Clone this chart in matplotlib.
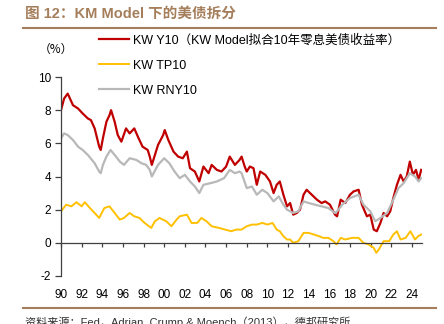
import matplotlib
matplotlib.use("Agg")
import matplotlib.pyplot as plt
from matplotlib.lines import Line2D

plt.rcParams['font.family'] = ['Liberation Sans', 'Noto Sans CJK SC', 'DejaVu Sans']

# KW Y10: fitted 10y zero-coupon yield
y10_years = [1990.0, 1990.3, 1990.65, 1991.16, 1991.65, 1992.1, 1992.6, 1992.9, 1993.26, 1993.7,
             1993.85, 1994.06, 1994.4, 1994.7, 1994.85, 1995.2, 1995.5, 1995.85, 1996.3, 1996.65,
             1997.1, 1997.45, 1997.9, 1998.4, 1998.6, 1998.8, 1998.95, 1999.4, 1999.9, 2000.05,
             2000.4, 2000.9, 2001.35, 2001.8, 2002.2, 2002.5, 2002.97, 2003.4, 2003.8, 2004.3,
             2004.6, 2005.1, 2005.55, 2006.0, 2006.35, 2006.85, 2007.3, 2007.5, 2007.8, 2008.0,
             2008.3, 2008.65, 2008.97, 2009.3, 2009.8, 2010.25, 2010.6, 2010.9, 2011.2, 2011.55,
             2011.9, 2012.2, 2012.5, 2012.85, 2013.16, 2013.5, 2013.8, 2014.3, 2014.8, 2015.25,
             2015.6, 2016.06, 2016.55, 2016.75, 2017.1, 2017.55, 2018.0, 2018.35, 2018.84, 2019.16,
             2019.64, 2019.97, 2020.3, 2020.6, 2020.95, 2021.26, 2021.6, 2021.9, 2022.2, 2022.55,
             2022.9, 2023.2, 2023.5, 2023.8, 2024.1, 2024.4, 2024.65, 2024.9]
y10_vals = [8.0, 8.7, 9.0, 8.3, 8.1, 7.8, 7.5, 7.4, 6.9, 5.8,
            5.6, 6.3, 7.3, 7.7, 8.0, 7.3, 6.5, 6.1, 6.9, 6.6,
            6.9, 6.4, 5.8, 5.6, 5.2, 4.7, 5.0, 5.9, 6.5, 6.8,
            6.2, 5.5, 5.2, 5.1, 5.5, 4.5, 4.3, 3.7, 4.6, 4.2,
            4.7, 4.4, 4.3, 4.6, 5.2, 4.7, 5.0, 5.2, 4.6, 4.3,
            4.6, 4.5, 3.5, 4.3, 4.1, 3.7, 3.0, 3.5, 3.7, 2.9,
            2.2, 2.4, 1.7, 1.8, 2.0, 2.9, 3.2, 2.9, 2.6, 2.4,
            2.5, 2.3, 1.7, 1.6, 2.6, 2.4, 2.9, 3.1, 3.2, 2.3,
            1.6, 1.7, 0.8, 0.7, 1.2, 1.8, 1.6, 1.9, 2.7, 3.5,
            4.1, 3.7, 4.0, 4.9, 4.1, 4.4, 3.8, 4.4]

# KW TP10: term premium
tp_years = [1990.0, 1990.5, 1991.0, 1991.5, 1992.0, 1992.3, 1992.8, 1993.26, 1993.7, 1994.2,
            1994.7, 1995.2, 1995.7, 1996.1, 1996.65, 1997.1, 1997.6, 1998.1, 1998.74, 1999.1,
            1999.55, 2000.2, 2000.7, 2001.2, 2001.5, 2002.2, 2002.65, 2003.2, 2003.6, 2004.1,
            2004.6, 2005.3, 2005.9, 2006.5, 2007.0, 2007.5, 2008.0, 2008.5, 2008.97, 2009.5,
            2010.0, 2010.5, 2010.9, 2011.2, 2011.55, 2011.9, 2012.2, 2012.5, 2013.0, 2013.5,
            2014.0, 2014.5, 2015.0, 2015.4, 2015.9, 2016.4, 2016.7, 2017.1, 2017.55, 2018.2,
            2018.84, 2019.3, 2019.8, 2020.3, 2020.55, 2020.8, 2021.26, 2021.8, 2022.2, 2022.55,
            2022.9, 2023.4, 2023.85, 2024.3, 2024.6, 2024.9]
tp_vals = [1.9, 2.3, 2.2, 2.45, 2.2, 2.45, 2.1, 1.8, 1.5, 2.1,
           2.2, 1.8, 1.4, 1.5, 1.8, 1.6, 1.5, 1.2, 0.9, 1.3,
           1.5, 1.3, 1.0, 1.4, 1.6, 1.7, 1.2, 1.2, 1.5, 1.3,
           1.0, 0.9, 0.8, 0.7, 0.8, 0.8, 1.0, 1.1, 1.1, 1.2,
           1.1, 1.2, 0.8, 0.7, 0.4, 0.2, 0.2, 0.0, 0.1, 0.6,
           0.6, 0.5, 0.4, 0.3, 0.3, 0.1, -0.1, 0.3, 0.2, 0.3,
           0.3, 0.0, -0.1, -0.3, -0.6, -0.4, 0.1, 0.1, 0.5, 0.7,
           0.2, 0.3, 0.7, 0.2, 0.4, 0.5]

# KW RNY10: risk-neutral yield
rny_years = [1990.0, 1990.3, 1990.65, 1991.16, 1991.65, 1992.1, 1992.6, 1993.26, 1993.7, 1993.85,
             1994.06, 1994.4, 1994.8, 1995.2, 1995.7, 1996.1, 1996.65, 1997.3, 1997.8, 1998.25,
             1998.6, 1998.8, 1999.4, 2000.0, 2000.5, 2001.0, 2001.5, 2002.0, 2002.5, 2002.97,
             2003.4, 2003.8, 2004.5, 2005.1, 2005.8, 2006.35, 2006.85, 2007.3, 2007.5, 2008.0,
             2008.5, 2008.97, 2009.5, 2010.0, 2010.6, 2011.1, 2011.55, 2011.9, 2012.5, 2013.0,
             2013.5, 2014.0, 2014.6, 2015.25, 2015.9, 2016.55, 2016.75, 2017.25, 2018.0, 2018.84,
             2019.3, 2019.97, 2020.45, 2020.95, 2021.6, 2022.2, 2022.7, 2023.2, 2023.8, 2024.3,
             2024.65, 2024.9]
rny_vals = [6.3, 6.6, 6.5, 6.2, 5.8, 5.6, 5.3, 4.8, 4.3, 4.2,
            4.7, 5.2, 5.6, 5.3, 4.9, 4.7, 5.1, 5.0, 4.8, 4.7,
            4.4, 4.0, 4.7, 5.1, 4.8, 4.3, 3.9, 4.1, 3.7, 3.4,
            3.0, 3.5, 3.6, 3.7, 3.9, 4.4, 4.2, 4.3, 4.2, 3.3,
            3.4, 2.9, 3.2, 3.0, 2.5, 2.8, 2.3, 2.0, 1.8, 1.9,
            2.5, 2.4, 2.3, 2.2, 2.1, 1.8, 1.9, 2.3, 2.7, 2.9,
            2.3, 1.9, 1.3, 1.5, 1.8, 2.6, 3.3, 3.6, 4.2, 4.0,
            3.7, 3.9]

tick_years = list(range(1990, 2025, 2))
tick_labels = [f"{y % 100:02d}" for y in tick_years]
y_ticks = [10, 8, 6, 4, 2, 0, -2]

legend_labels = ["KW Y10（KW Model拟合10年零息美债收益率）", "KW TP10", "KW RNY10"]
colors = ["#c00000", "#ffc000", "#b8b8b8"]
brown = "#a57f5c"

fig = plt.figure(figsize=(4.44, 3.24), dpi=100)
ax = fig.add_axes([61 / 444, 1 - 276 / 324, (421.7 - 61) / 444, (276 - 77) / 324])

l1, = ax.plot(y10_years, y10_vals, color=colors[0], lw=1.6)
l2, = ax.plot(tp_years, tp_vals, color=colors[1], lw=1.4)
l3, = ax.plot(rny_years, rny_vals, color=colors[2], lw=1.6)

ax.set_xlim(1990, 2024.95)
ax.set_ylim(-2, 10)
ax.set_yticks(y_ticks)
ax.set_yticklabels([str(v) for v in y_ticks])
ax.set_xticks(tick_years)
ax.set_xticklabels(tick_labels)

for s in ['top', 'right']:
    ax.spines[s].set_visible(False)
ax.spines['bottom'].set_position(('data', 0))
ax.spines['bottom'].set_color('#404040')
ax.spines['left'].set_color('#404040')
ax.spines['bottom'].set_linewidth(0.9)
ax.spines['left'].set_linewidth(0.9)
ax.tick_params(axis='y', direction='out', length=4, width=0.9, color='#404040',
               labelsize=8.5, pad=3)
ax.tick_params(axis='x', direction='out', length=3, width=0.9, color='#404040',
               labelsize=8.5, pad=30)

fig.legend([l1, l2, l3], legend_labels, loc='upper left',
           bbox_to_anchor=(99 / 444, 1 - 34 / 324), frameon=False,
           fontsize=9, handlelength=2.4, handletextpad=0.35,
           labelspacing=1.05, borderpad=0, borderaxespad=0)

fig.text(56 / 444, 1 - 49 / 324, "（%）", fontsize=8.5, ha='center', va='center',
         family=['Noto Sans CJK SC', 'DejaVu Sans'])

# header and footer
fig.text(25 / 444, 1 - 14 / 324, "图 12：KM Model 下的美债拆分", fontsize=10.5,
         fontweight='bold', color=brown, ha='left', va='center')
fig.add_artist(Line2D([23 / 444, 436 / 444], [1 - 27.5 / 324] * 2, color=brown, lw=1.5))
fig.add_artist(Line2D([23 / 444, 436 / 444], [1 - 307.5 / 324] * 2, color=brown, lw=1.5))
fig.text(25 / 444, 1 - 322 / 324, "资料来源：Fed，Adrian, Crump & Moench（2013），德邦研究所",
         fontsize=8, color='#333333', ha='left', va='center')

fig.savefig("out.png", dpi=100)
